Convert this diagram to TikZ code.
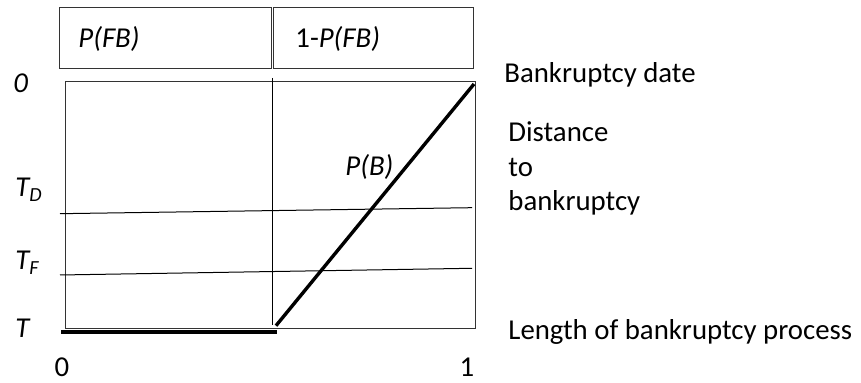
\documentclass[tikz,border=0pt]{standalone}
\usepackage{fontspec}
\setmainfont{Carlito}
\usetikzlibrary{positioning}
\tikzset{
  frame/.style={draw=black!80,line width=0.5pt},
  guide/.style={draw=black,line width=0.5pt},
  heavy/.style={draw=black,line width=2pt},
  lbl/.style={inner sep=0pt,anchor=base west},
  tick/.style={inner sep=0pt,anchor=base}
}

\begin{document}
\begin{tikzpicture}[x=0.5pt,y=0.5pt,font=\fontsize{14.4}{17.4}\selectfont]
    \useasboundingbox (0,0) rectangle (861,383);
    % probability boxes on top
    \draw[frame] (59,314) rectangle (271,375);
    \draw[frame] (273,314) rectangle (473,375);
    \node[lbl] (pfb) at (78,335) {\textit{P(FB)}};
    \node[lbl] (qfb) at (295,335) {1-\textit{P(FB)}};
    % main frame
    \coordinate (bl) at (65,54);
    \coordinate (tr) at (475,301);
    \draw[frame] (bl) rectangle (tr);
    \coordinate (dtop) at (272,305);
    \coordinate (dbot) at (272,58);
    \draw[guide] (dtop) -- (dbot);
    % time levels
    \coordinate (tdl) at (60,169.3);
    \coordinate (tdr) at (472,175.3);
    \coordinate (tfl) at (60,108);
    \coordinate (tfr) at (472,114.7);
    \draw[guide] (tdl) -- (tdr);
    \draw[guide] (tfl) -- (tfr);
    % bankruptcy paths
    \coordinate (hl) at (61,51);
    \coordinate (hr) at (277,51);
    \coordinate (ps) at (276,57.3);
    \coordinate (pe) at (474,299);
    \draw[heavy] (hl) -- (hr);
    \draw[heavy,line width=1.7pt] (ps) -- (pe);
    \node[lbl] (pb) at (345,207) {\textit{P(B)}};
    % vertical axis labels
    \node[lbl] (t0) at (13,290) {\textit{0}};
    \node[lbl] (td) at (15,186) {\textit{T\textsubscript{D}}};
    \node[lbl] (tf) at (15,113) {\textit{T\textsubscript{F}}};
    \node[lbl] (tt) at (15,45) {\textit{T}};
    % horizontal axis labels
    \node[tick] (x0) at (62,6) {0};
    \node[tick] (x1) at (467,6) {1};
    % descriptions
    \node[lbl] (date) at (504,300) {Bankruptcy date};
    \node[lbl,align=left,anchor=north west] (dist) at (508,262) {Distance\\[0pt]to\\bankruptcy};
    \node[lbl] (len) at (508,43) {Length of bankruptcy process};
\end{tikzpicture}
\end{document}
